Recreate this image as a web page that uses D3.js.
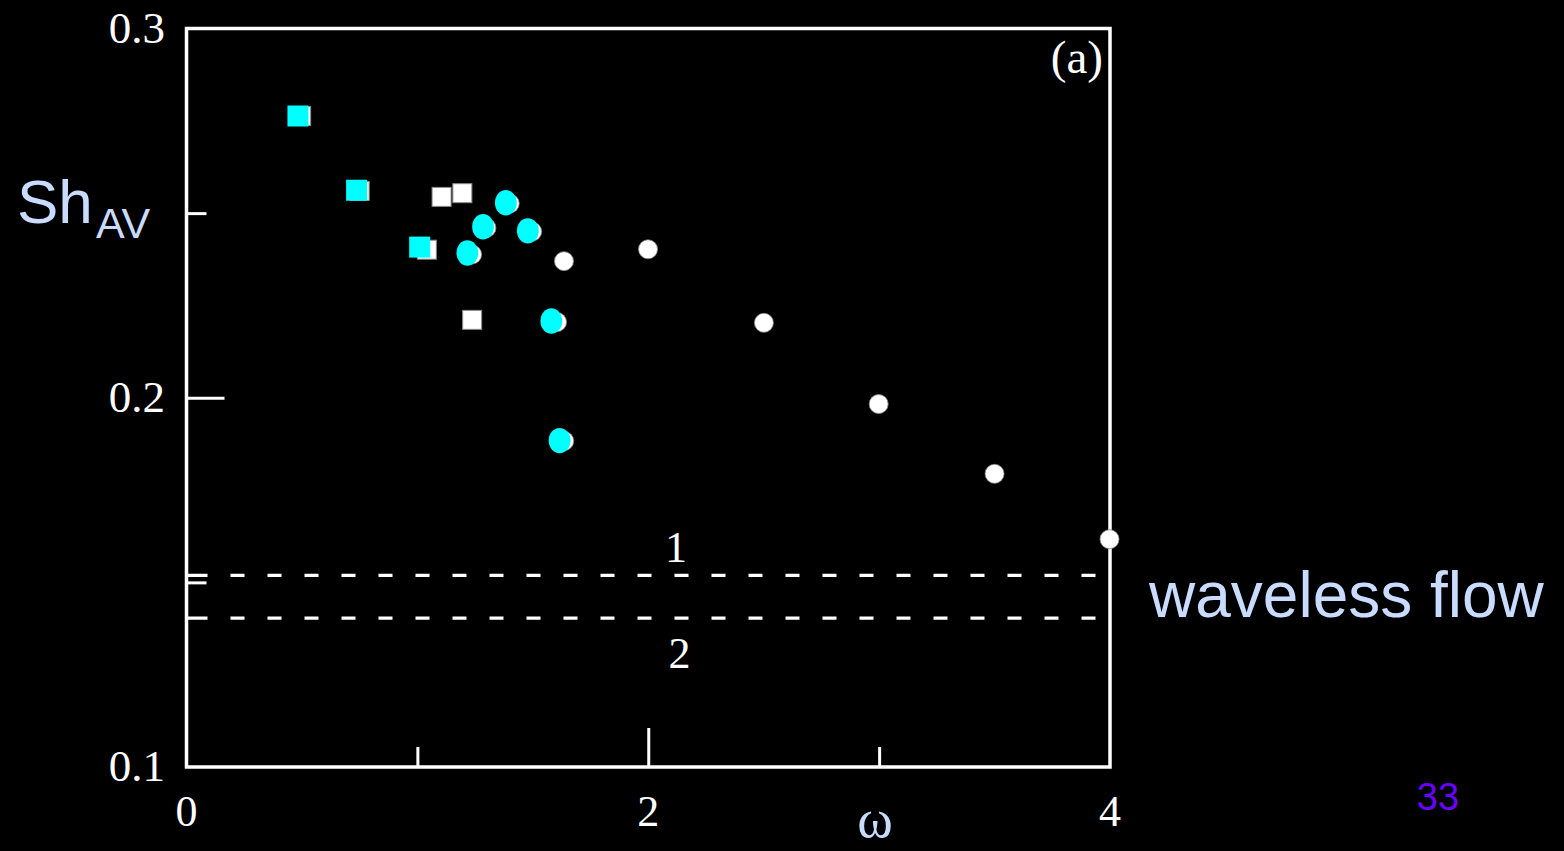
<!DOCTYPE html>
<html>
<head>
<meta charset="utf-8">
<script src="https://cdn.jsdelivr.net/npm/d3@7"></script>
<style>
  html, body { margin: 0; padding: 0; background: #000; }
  svg { display: block; }
</style>
</head>
<body>
<svg id="chart" width="1564" height="851"></svg>
<script>
// Average Sherwood number vs. forcing frequency
const xTickMajor = [2];
const xTickMinor = [1, 3];
const xTickLabels = [0, 2, 4];
const yTickMajor = [0.2];
const yTickMinor = [0.15, 0.25];
const yTickLabels = [0.1, 0.2, 0.3];

// open (white) square symbols
const whiteSquareOmega = [0.4965, 0.750, 1.041, 1.1048, 1.1948, 1.2372];
const whiteSquareSh    = [0.2763, 0.2560, 0.2401, 0.2544, 0.2554, 0.2211];

// open (white) circle symbols
const whiteCircleOmega = [1.400, 1.299, 1.497, 1.237, 1.605, 1.636, 1.635, 1.999, 2.501, 2.998, 3.500, 3.998];
const whiteCircleSh    = [0.2526, 0.2460, 0.2450, 0.2388, 0.2205, 0.1883, 0.2370, 0.2402, 0.2203, 0.1983, 0.1794, 0.1617];

// highlighted (cyan) squares
const cyanSquareOmega = [0.4827, 0.7368, 1.010];
const cyanSquareSh    = [0.2763, 0.2562, 0.2408];

// highlighted (cyan) circles
const cyanCircleOmega = [1.3831, 1.2844, 1.4784, 1.2165, 1.5801, 1.6160];
const cyanCircleSh    = [0.2528, 0.2463, 0.2452, 0.2392, 0.2208, 0.1884];

// waveless-flow levels (dashed lines) and their labels
const wavelessSh     = [0.1519, 0.1403];
const wavelessLabels = ["1", "2"];

const svg = d3.select("#chart");
const W = 1564, H = 851;
svg.append("rect").attr("width", W).attr("height", H).attr("fill", "#000");

const x = d3.scaleLinear().domain([0, 4]).range([186.5, 1110]);
const y = d3.scaleLinear().domain([0.1, 0.3]).range([767, 28.5]);

const serif = "'Liberation Serif', 'Times New Roman', serif";
const sans = "'Liberation Sans', Arial, sans-serif";
const lightBlue = "#c9dcff";

// frame
svg.append("rect")
  .attr("x", x(0)).attr("y", y(0.3))
  .attr("width", x(4) - x(0)).attr("height", y(0.1) - y(0.3))
  .attr("fill", "none").attr("stroke", "#fff").attr("stroke-width", 3.5);

// inward ticks
function addAxis(axis, transform) {
  const g = svg.append("g").attr("transform", transform).call(axis);
  g.select(".domain").remove();
  g.selectAll("line").attr("stroke", "#fff").attr("stroke-width", 3);
  g.selectAll("text").remove();
  return g;
}
addAxis(d3.axisBottom(x).tickValues(xTickMajor).tickSize(-39), `translate(0,${y(0.1)})`);
addAxis(d3.axisBottom(x).tickValues(xTickMinor).tickSize(-20), `translate(0,${y(0.1)})`);
addAxis(d3.axisLeft(y).tickValues(yTickMajor).tickSize(-38), `translate(${x(0)},0)`);
addAxis(d3.axisLeft(y).tickValues(yTickMinor).tickSize(-20), `translate(${x(0)},0)`);

// tick labels
svg.append("g").selectAll("text").data(xTickLabels).join("text")
  .attr("x", d => x(d)).attr("y", 826)
  .attr("text-anchor", "middle")
  .attr("font-family", serif).attr("font-size", 44).attr("fill", "#fff")
  .text(d => d3.format("d")(d));

svg.append("g").selectAll("text").data(yTickLabels).join("text")
  .attr("x", 165).attr("y", d => y(d) + 14)
  .attr("text-anchor", "end")
  .attr("font-family", serif).attr("font-size", 45).attr("fill", "#fff")
  .text(d => d3.format(".1f")(d));

// waveless-flow dashed lines
const lineLen = x(4) - x(0);
const dashes = [21, 23];
while (d3.sum(dashes) < lineLen + 40) dashes.push(14, 23);
svg.append("g").selectAll("line").data(wavelessSh).join("line")
  .attr("x1", x(0)).attr("x2", x(4))
  .attr("y1", d => y(d)).attr("y2", d => y(d))
  .attr("stroke", "#fff").attr("stroke-width", 3.2)
  .attr("stroke-dasharray", dashes.join(","));

svg.append("text").attr("x", 676).attr("y", y(wavelessSh[0]) - 13)
  .attr("text-anchor", "middle").attr("font-family", serif).attr("font-size", 44)
  .attr("fill", "#fff").text(wavelessLabels[0]);
svg.append("text").attr("x", 679.5).attr("y", y(wavelessSh[1]) + 50)
  .attr("text-anchor", "middle").attr("font-family", serif).attr("font-size", 44)
  .attr("fill", "#fff").text(wavelessLabels[1]);

// white symbols
const wsq = 19;
svg.append("g").selectAll("rect")
  .data(d3.zip(whiteSquareOmega, whiteSquareSh)).join("rect")
  .attr("x", d => x(d[0]) - wsq / 2).attr("y", d => y(d[1]) - wsq / 2)
  .attr("width", wsq).attr("height", wsq)
  .attr("fill", "#fff").attr("stroke", "#8a8a8a").attr("stroke-width", 1);

svg.append("g").selectAll("circle")
  .data(d3.zip(whiteCircleOmega, whiteCircleSh)).join("circle")
  .attr("cx", d => x(d[0])).attr("cy", d => y(d[1])).attr("r", 9.5)
  .attr("fill", "#fff").attr("stroke", "#8a8a8a").attr("stroke-width", 0.8);

// cyan symbols
const csq = 21;
svg.append("g").selectAll("rect")
  .data(d3.zip(cyanSquareOmega, cyanSquareSh)).join("rect")
  .attr("x", d => x(d[0]) - csq / 2).attr("y", d => y(d[1]) - csq / 2)
  .attr("width", csq).attr("height", csq)
  .attr("fill", "#00ffff");

svg.append("g").selectAll("ellipse")
  .data(d3.zip(cyanCircleOmega, cyanCircleSh)).join("ellipse")
  .attr("cx", d => x(d[0])).attr("cy", d => y(d[1]))
  .attr("rx", 10.9).attr("ry", 12.7)
  .attr("fill", "#00ffff");

// panel tag
svg.append("text").attr("x", 1103).attr("y", 73)
  .attr("text-anchor", "end").attr("font-family", serif).attr("font-size", 47)
  .attr("fill", "#fff").text("(a)");

// axis titles
const yt = svg.append("text").attr("font-family", sans).attr("fill", lightBlue);
yt.append("tspan").attr("x", 17).attr("y", 223).attr("font-size", 62).text("Sh");
yt.append("tspan").attr("x", 96).attr("y", 238).attr("font-size", 43).text("AV");

svg.append("text").attr("x", 875).attr("y", 837)
  .attr("text-anchor", "middle").attr("font-family", serif).attr("font-size", 54)
  .attr("fill", lightBlue).text("ω");

svg.append("text").attr("x", 1149).attr("y", 617)
  .attr("font-family", sans).attr("font-size", 64)
  .attr("fill", lightBlue).text("waveless flow");

// slide number
svg.append("text").attr("x", 1438).attr("y", 810)
  .attr("text-anchor", "middle").attr("font-family", sans).attr("font-size", 38)
  .attr("fill", "#6a00ff").text("33");
</script>
</body>
</html>
